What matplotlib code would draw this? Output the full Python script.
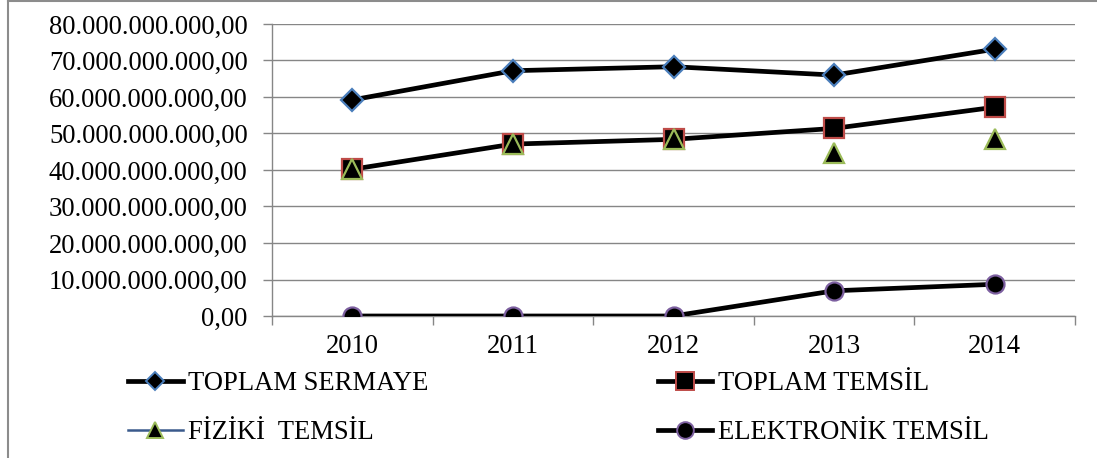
import matplotlib
matplotlib.use("Agg")
import matplotlib.pyplot as plt
import matplotlib.ticker as mt
from matplotlib.lines import Line2D

years = ["2010", "2011", "2012", "2013", "2014"]
toplam_sermaye = [59.2e9, 67.2e9, 68.3e9, 66.0e9, 73.1e9]
toplam_temsil = [40.2e9, 47.1e9, 48.4e9, 51.4e9, 57.2e9]
fiziki_temsil = [40.2e9, 47.1e9, 48.4e9, 44.6e9, 48.4e9]
elektronik_temsil = [0.0, 0.0, 0.0, 6.9e9, 8.7e9]

plt.rcParams['font.family'] = ['Liberation Serif', 'DejaVu Serif']
FS = 19.2
W, H = 1097, 458


def tr_fmt(v, pos):
    s = "{:,.2f}".format(v)
    return s.replace(",", "_").replace(".", ",").replace("_", ".")


fig = plt.figure(figsize=(W / 100, H / 100), dpi=100)
ax = fig.add_axes([272 / W, (H - 316) / H, (1075 - 272) / W, (316 - 24) / H])

x = list(range(len(years)))
lw = 3.4
ax.plot(x, toplam_sermaye, color='black', lw=lw, marker='D', ms=11,
        mfc='black', mec='#4A7EBB', mew=1.6, zorder=3)
ax.plot(x, toplam_temsil, color='black', lw=lw, marker='s', ms=14,
        mfc='black', mec='#BE4B48', mew=1.6, zorder=3)
ax.plot(x, fiziki_temsil, linestyle='none', marker='^', ms=14,
        mfc='black', mec='#9BBB59', mew=1.6, zorder=4)
ax.plot(x, elektronik_temsil, color='black', lw=lw, marker='o', ms=13,
        mfc='black', mec='#7D60A0', mew=1.6, zorder=3)

ax.set_xlim(-0.5, len(years) - 0.5)
ax.set_ylim(0, 80e9)
ax.yaxis.set_major_locator(mt.MultipleLocator(10e9))
ax.yaxis.set_major_formatter(mt.FuncFormatter(tr_fmt))
ax.set_xticks(x)
ax.set_xticklabels(years)
ax.xaxis.set_minor_locator(mt.FixedLocator([i - 0.5 for i in range(len(years) + 1)]))
ax.tick_params(axis='x', which='major', length=0, pad=13, labelsize=FS)
ax.tick_params(axis='x', which='minor', length=6.5, color='#868686', width=1)
ax.tick_params(axis='y', length=6.5, color='#868686', width=1, labelsize=FS, pad=11)
ax.grid(axis='y', color='#868686', lw=1)
ax.set_axisbelow(True)
for s in ['top', 'right']:
    ax.spines[s].set_visible(False)
for s in ['left', 'bottom']:
    ax.spines[s].set_color('#868686')
    ax.spines[s].set_linewidth(1)

handles = [
    Line2D([], [], color='black', lw=lw, marker='D', ms=9.5, mfc='black', mec='#4A7EBB', mew=1.4),
    Line2D([], [], color='#3A5A8C', lw=1.8, marker='^', ms=12, mfc='black', mec='#9BBB59', mew=1.4),
    Line2D([], [], color='black', lw=lw, marker='s', ms=12.5, mfc='black', mec='#BE4B48', mew=1.4),
    Line2D([], [], color='black', lw=lw, marker='o', ms=12, mfc='black', mec='#7D60A0', mew=1.4),
]
labels = ["TOPLAM SERMAYE", "FİZİKİ  TEMSİL", "TOPLAM TEMSİL", "ELEKTRONİK TEMSİL"]
fig.legend(handles, labels, ncol=2, loc='upper left',
           bbox_to_anchor=(128 / W, (H - 371) / H), frameon=False,
           fontsize=FS, borderpad=0, borderaxespad=0, handlelength=2.05,
           handletextpad=0.2, labelspacing=0.9, columnspacing=8.6)

# outer chart border (left and top)
fig.add_artist(Line2D([8 / W, 8 / W], [0, 1], color='#8C8C8C', lw=1.5))
fig.add_artist(Line2D([8 / W, 1], [1 - 1 / H, 1 - 1 / H], color='#8C8C8C', lw=1.5))

fig.savefig("out.png", dpi=100)
